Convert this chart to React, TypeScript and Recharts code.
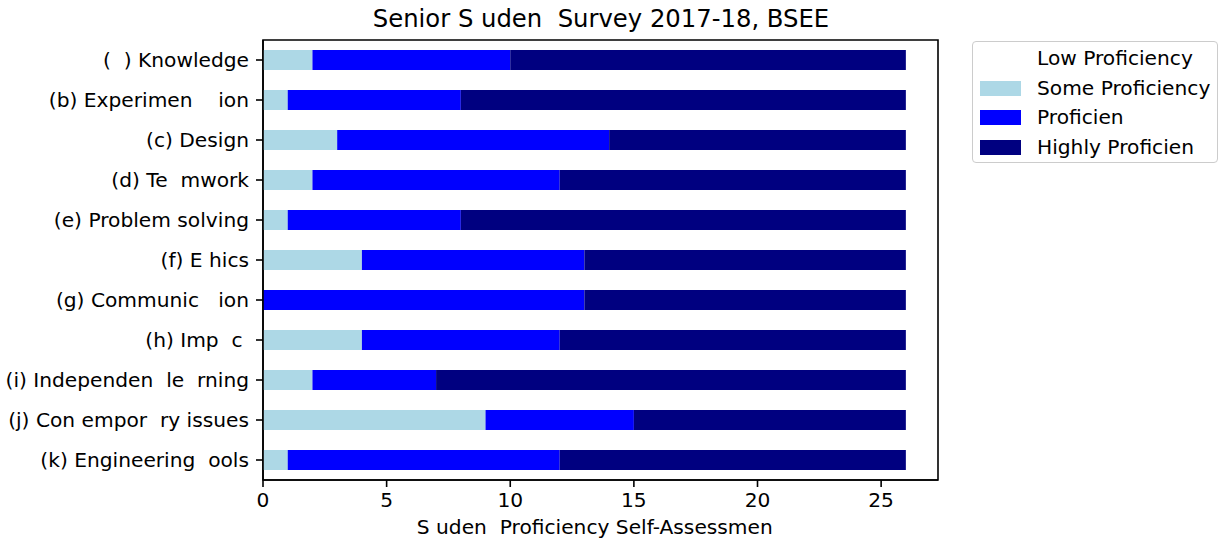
import React from 'react';
import { BarChart, Bar, XAxis, YAxis, ReferenceArea } from 'recharts';

const categories = [
  '(  ) Knowledge',
  '(b) Experimen    ion',
  '(c) Design',
  '(d) Te  mwork',
  '(e) Problem solving',
  '(f) E hics',
  '(g) Communic   ion',
  '(h) Imp  c ',
  '(i) Independen  le  rning',
  '(j) Con empor  ry issues',
  '(k) Engineering  ools',
];
const lowValues = [0, 0, 0, 0, 0, 0, 0, 0, 0, 0, 0];
const someValues = [2, 1, 3, 2, 1, 4, 0, 4, 2, 9, 1];
const proficientValues = [8, 7, 11, 10, 7, 9, 13, 8, 5, 6, 11];
const highlyValues = [16, 18, 12, 14, 18, 13, 13, 14, 19, 11, 14];
const xTicks = [0, 5, 10, 15, 20, 25];
const xMax = 27.3;

const seriesNames = ['Low Proficiency', 'Some Proficiency', 'Proficien ', 'Highly Proficien '];
const seriesKeys = ['low', 'some', 'prof', 'high'];
const seriesColors = ['#ffffff', '#add8e6', '#0000ff', '#000080'];

const titleText = 'Senior S uden  Survey 2017-18, BSEE';
const xLabelText = 'S uden  Proficiency Self-Assessmen ';

const data = categories.map((c, i) => ({
  name: c,
  low: lowValues[i],
  some: someValues[i],
  prof: proficientValues[i],
  high: highlyValues[i],
}));

const FONT = 'DejaVu Sans, sans-serif';
const FS = 20.2;

const YTick = (props: any) => {
  const { x, y, payload } = props;
  return (
    <text x={x} y={y} dy={7} textAnchor="end" fontFamily={FONT} fontSize={FS} fill="#000" style={{ whiteSpace: 'pre' }}>
      {payload.value}
    </text>
  );
};

const XTick = (props: any) => {
  const { x, y, payload } = props;
  return (
    <text x={x} y={y} dy={17} textAnchor="middle" fontFamily={FONT} fontSize={FS} fill="#000">
      {payload.value}
    </text>
  );
};

export default function App() {
  return (
    <div style={{ position: 'absolute', left: 0, top: 0, width: 1225, height: 543, background: '#fff', fontFamily: FONT }}>
      <BarChart
        width={1225}
        height={543}
        data={data}
        layout="vertical"
        margin={{ top: 40, right: 287, bottom: 0, left: 0 }}
        barCategoryGap={0}
      >
        <XAxis
          type="number"
          domain={[0, xMax]}
          ticks={xTicks}
          tick={<XTick />}
          tickSize={7}
          tickMargin={3}
          height={63}
          axisLine={{ stroke: '#000', strokeWidth: 1.6 }}
          tickLine={{ stroke: '#000', strokeWidth: 1.6 }}
          allowDataOverflow
        />
        <YAxis
          type="category"
          dataKey="name"
          width={263}
          tick={<YTick />}
          tickSize={7}
          tickMargin={7}
          interval={0}
          axisLine={{ stroke: '#000', strokeWidth: 1.6 }}
          tickLine={{ stroke: '#000', strokeWidth: 1.6 }}
        />
        {seriesKeys.map((k, i) => (
          <Bar
            key={k}
            dataKey={k}
            name={seriesNames[i]}
            stackId="a"
            fill={seriesColors[i]}
            barSize={20}
            isAnimationActive={false}
          />
        ))}
        <ReferenceArea x1={0} x2={xMax} fill="none" fillOpacity={0} stroke="#000" strokeWidth={1.6} ifOverflow="visible" />
      </BarChart>
      <div
        style={{
          position: 'absolute', left: 0, width: 1202, top: 4, textAlign: 'center',
          fontSize: 24.3, whiteSpace: 'pre', color: '#000', lineHeight: '29px',
        }}
      >
        {titleText}
      </div>
      <div
        style={{
          position: 'absolute', left: 0, width: 1196, top: 515, textAlign: 'center',
          fontSize: FS, whiteSpace: 'pre', color: '#000', lineHeight: '24px',
        }}
      >
        {xLabelText}
      </div>
      <div
        style={{
          position: 'absolute', left: 972, top: 41, width: 246, height: 122,
          border: '1.5px solid #cccccc', borderRadius: 4, boxSizing: 'border-box', background: '#fff',
        }}
      >
        {seriesNames.map((n, i) => (
          <div key={n} style={{ position: 'absolute', left: 0, top: 3 + i * 29.5, height: 26, width: 240 }}>
            <div style={{ position: 'absolute', left: 7, top: 6, width: 41, height: 15, background: seriesColors[i] }} />
            <div style={{ position: 'absolute', left: 64, top: 0, fontSize: FS, lineHeight: '26px', whiteSpace: 'pre', color: '#000' }}>
              {n}
            </div>
          </div>
        ))}
      </div>
    </div>
  );
}
